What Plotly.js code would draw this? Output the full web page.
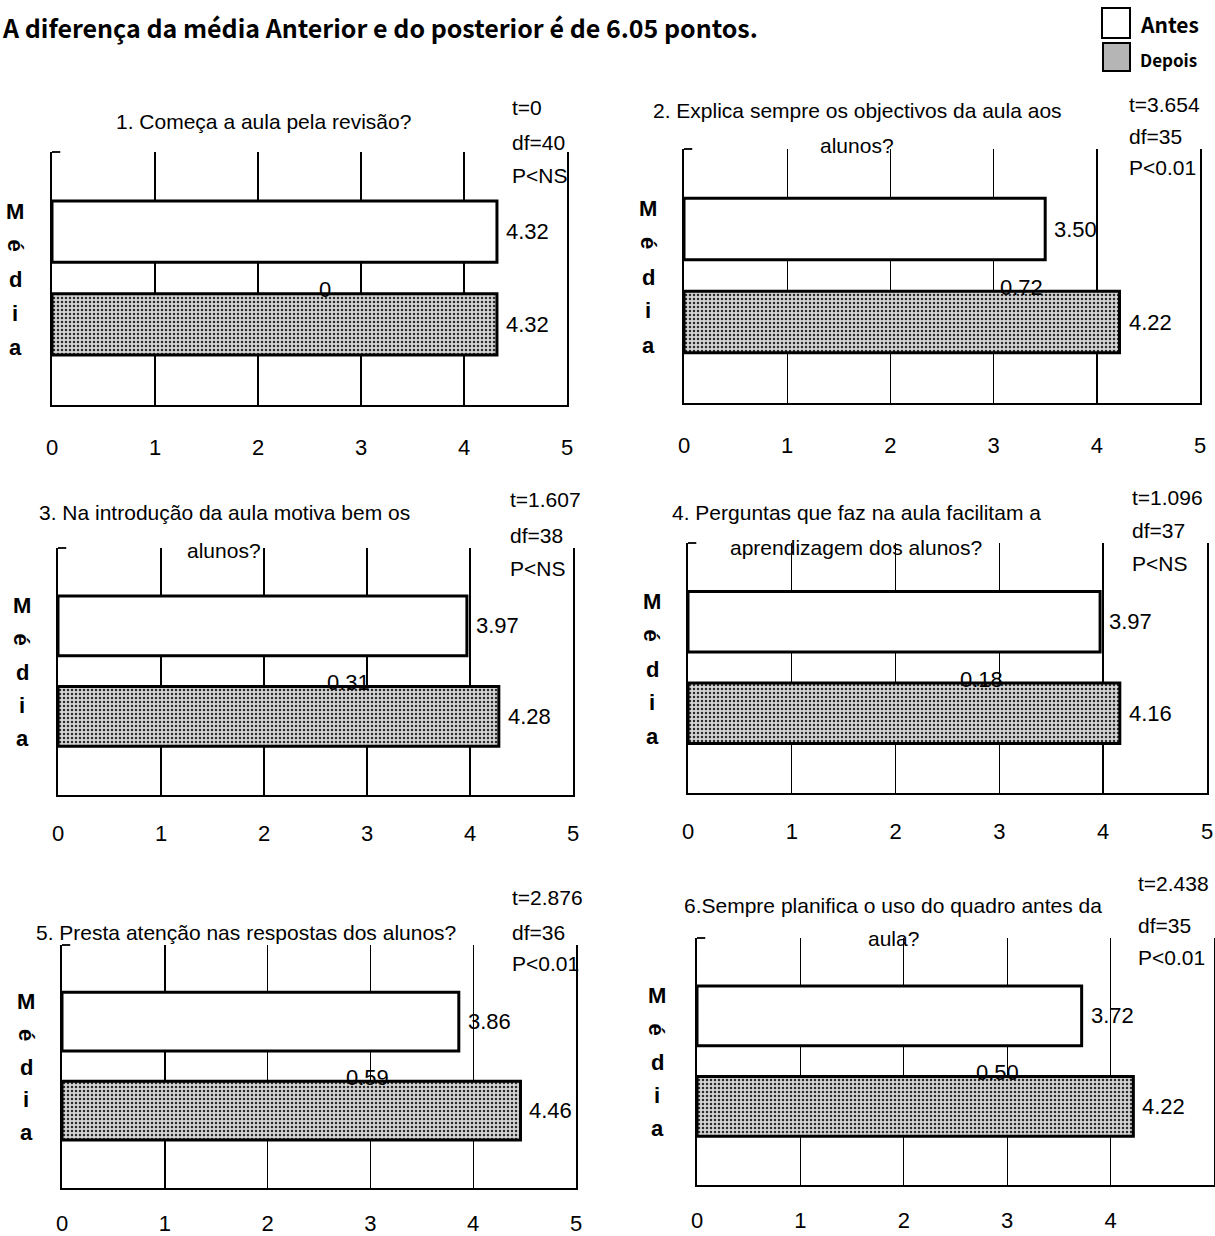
<!DOCTYPE html>
<html>
<head>
<meta charset="utf-8">
<script src="https://cdn.plot.ly/plotly-3.0.1.min.js"></script>
<style>html,body{margin:0;padding:0;background:#fff;} #chart{width:1215px;height:1236px;}</style>
</head>
<body>
<div id="chart"></div>
<script>
// ---------------- DATA ----------------
const headline = "A diferença da média Anterior e do posterior é de 6.05 pontos.";
const seriesNames = ["Antes", "Depois"];
const questions = [
  ["1. Começa a aula pela revisão?"],
  ["2. Explica sempre os objectivos da aula aos", "alunos?"],
  ["3. Na introdução da aula motiva bem os", "alunos?"],
  ["4. Perguntas que faz na aula facilitam a", "aprendizagem dos alunos?"],
  ["5. Presta atenção nas respostas dos alunos?"],
  ["6.Sempre planifica o uso do quadro antes da", "aula?"]
];
const antes  = [4.32, 3.50, 3.97, 3.97, 3.86, 3.72];
const depois = [4.32, 4.22, 4.28, 4.16, 4.46, 4.22];
const diffLabels = ["0", "0.72", "0.31", "0.18", "0.59", "0.50"];
const tStats  = ["t=0", "t=3.654", "t=1.607", "t=1.096", "t=2.876", "t=2.438"];
const dfStats = ["df=40", "df=35", "df=38", "df=37", "df=36", "df=35"];
const pStats  = ["P<NS", "P<0.01", "P<NS", "P<NS", "P<0.01", "P<0.01"];
const xTicks = [0, 1, 2, 3, 4, 5];
const axisLetters = ["M", "é", "d", "i", "a"];

// ---------------- LAYOUT GEOMETRY (pixels) ----------------
const W = 1215, H = 1236;
const geom = [
  {x0: 52,  x1: 567,  y0: 152, y1: 405,  titleX: 263, titleY: [121],      statX: 510,  statY: [108, 142, 175], mediaX: 15,  diffX: 2.65},
  {x0: 684, x1: 1200, y0: 149, y1: 403,  titleX: 857, titleY: [110, 145], statX: 1127, statY: [105, 137, 168], mediaX: 648, diffX: 3.27},
  {x0: 58,  x1: 573,  y0: 548, y1: 795,  titleX: 224, titleY: [513, 550], statX: 508,  statY: [500, 535, 568], mediaX: 22,  diffX: 2.82},
  {x0: 688, x1: 1207, y0: 543, y1: 793,  titleX: 856, titleY: [513, 548], statX: 1130, statY: [497, 530, 563], mediaX: 652, diffX: 2.83},
  {x0: 62,  x1: 576,  y0: 945, y1: 1188, titleX: 246, titleY: [932],      statX: 510,  statY: [897, 932, 963], mediaX: 26,  diffX: 2.97},
  {x0: 697, x1: 1214, y0: 938, y1: 1185, titleX: 893, titleY: [905, 938], statX: 1136, statY: [883, 925, 958], mediaX: 657, diffX: 2.91}
];
const rowTickLen = [22, 18, 15];
const letterY = [-0.22, 0.15, 0.52, 0.88, 1.25];
const BAR_W = 0.66;
const Y_RANGE = [1.87, -0.86];

const SANS = "Liberation Sans, Arial, sans-serif";
const BOLDG = "Noto Sans CJK JP, DejaVu Sans, sans-serif";
const px = v => v / W;
const py = v => 1 - v / H;
const esc = s => s.replace(/</g, "&lt;");

const traces = [];
const annotations = [];
const shapes = [];
const layout = {
  width: W, height: H,
  margin: {l: 0, r: 0, t: 0, b: 0},
  paper_bgcolor: "#fff", plot_bgcolor: "rgba(0,0,0,0)",
  showlegend: false,
  barmode: "overlay",
  font: {family: SANS, size: 21, color: "#000"}
};

geom.forEach((g, i) => {
  const n = i === 0 ? "" : String(i + 1);
  const xa = "x" + n, ya = "y" + n;
  traces.push({
    type: "bar", orientation: "h", name: seriesNames[0],
    x: [antes[i]], y: [0], xaxis: xa, yaxis: ya, width: BAR_W,
    marker: {color: "#fff", line: {color: "#000", width: 3}},
    hoverinfo: "x+name"
  });
  traces.push({
    type: "bar", orientation: "h", name: seriesNames[1],
    x: [depois[i]], y: [1], xaxis: xa, yaxis: ya, width: BAR_W,
    marker: {color: "#cfcfcf", line: {color: "#000", width: 3},
             pattern: {shape: ".", fgcolor: "#2a2a2a", bgcolor: "#d4d4d4", size: 4, solidity: 0.3}},
    hoverinfo: "x+name"
  });
  layout["xaxis" + n] = {
    domain: [px(g.x0), px(g.x1)], anchor: ya,
    range: [0, 5], tickvals: xTicks, ticktext: xTicks.map(String),
    showgrid: true, gridcolor: "#000", gridwidth: 1.4,
    showline: true, linecolor: "#000", linewidth: 1.8, zeroline: false,
    ticks: "outside", ticklen: rowTickLen[Math.floor(i / 2)], tickcolor: "rgba(0,0,0,0)",
    tickfont: {family: SANS, size: 22, color: "#000"}, fixedrange: true
  };
  layout["yaxis" + n] = {
    domain: [py(g.y1), py(g.y0)], anchor: xa,
    range: Y_RANGE, showgrid: false, zeroline: false,
    showticklabels: false, ticks: "",
    showline: true, mirror: true, linecolor: "#000", linewidth: 1.8, fixedrange: true
  };
  // top-left bracket tick
  shapes.push({type: "line", xref: xa + " domain", yref: ya + " domain",
    x0: 0, x1: 0.016, y0: 1, y1: 1, line: {color: "#000", width: 1.8}});
  // titles
  questions[i].forEach((line, k) => {
    annotations.push({xref: "paper", yref: "paper", x: px(g.titleX), y: py(g.titleY[k]),
      xanchor: "center", yanchor: "middle", showarrow: false, text: line,
      font: {family: SANS, size: 21}});
  });
  // stats
  [tStats[i], dfStats[i], pStats[i]].forEach((s, k) => {
    annotations.push({xref: "paper", yref: "paper", x: px(g.statX), y: py(g.statY[k]),
      xanchor: "left", yanchor: "middle", showarrow: false, text: esc(s),
      font: {family: SANS, size: 21}});
  });
  // value labels
  [antes[i], depois[i]].forEach((v, k) => {
    annotations.push({xref: xa, yref: ya, x: v, y: k, xanchor: "left", yanchor: "middle",
      xshift: 7, showarrow: false, text: v.toFixed(2), font: {family: SANS, size: 22}});
  });
  // difference label
  annotations.push({xref: xa, yref: ya, x: g.diffX, y: 1 - BAR_W / 2, xanchor: "center", yanchor: "middle",
    yshift: 4, showarrow: false, text: diffLabels[i], font: {family: SANS, size: 22}});
  // vertical "Média"
  axisLetters.forEach((ch, k) => {
    annotations.push({xref: "paper", yref: ya, x: px(g.mediaX), y: letterY[k],
      xanchor: "center", yanchor: "middle", showarrow: false, text: ch,
      textangle: ch === "é" ? 90 : 0,
      font: {family: SANS, size: 22, weight: "bold"}});
  });
});

// headline
annotations.push({xref: "paper", yref: "paper", x: px(0), y: py(27), xanchor: "left", yanchor: "middle",
  showarrow: false, text: headline, font: {family: BOLDG, size: 25, weight: "bold"}});

// legend (drawn)
shapes.push({type: "rect", xref: "paper", yref: "paper", x0: px(1102), x1: px(1130), y0: py(38), y1: py(8),
  fillcolor: "#fff", line: {color: "#000", width: 2}});
shapes.push({type: "rect", xref: "paper", yref: "paper", x0: px(1103), x1: px(1130), y0: py(71), y1: py(43),
  fillcolor: "#b5b5b5", line: {color: "#000", width: 2}});
annotations.push({xref: "paper", yref: "paper", x: px(1138), y: py(24), xanchor: "left", yanchor: "middle",
  showarrow: false, text: seriesNames[0], font: {family: BOLDG, size: 21, weight: "bold"}});
annotations.push({xref: "paper", yref: "paper", x: px(1138), y: py(59), xanchor: "left", yanchor: "middle",
  showarrow: false, text: seriesNames[1], font: {family: BOLDG, size: 17, weight: "bold"}});

layout.annotations = annotations;
layout.shapes = shapes;

Plotly.newPlot("chart", traces, layout, {displayModeBar: false, staticPlot: true});
</script>
</body>
</html>
